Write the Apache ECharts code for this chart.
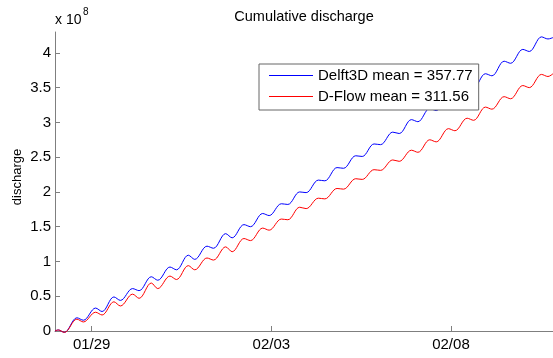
<!DOCTYPE html>
<html>
<head>
<meta charset="utf-8">
<script src="https://cdn.jsdelivr.net/npm/echarts@6/dist/echarts.min.js"></script>
<style>
  html, body { margin: 0; padding: 0; background: #fff; }
  #chart { width: 553px; height: 358px; }
</style>
</head>
<body>
<div id="chart"></div>
<script>
// Time in days of the year (29 = 29 January, 00:00)
const days = [
  27.98, 28.07, 28.24,
  28.59, 28.77, 29.11, 29.29, 29.62, 29.80, 30.14, 30.32,
  30.66, 30.84, 31.18, 31.36, 31.69, 31.87, 32.21, 32.39,
  32.73, 32.91, 33.24, 33.42, 33.76, 33.94, 34.28, 34.46,
  34.79, 34.97, 35.31, 35.49, 35.83, 36.01, 36.35, 36.53,
  36.86, 37.04, 37.38, 37.56, 37.90, 38.08, 38.41, 38.59,
  38.93, 39.11, 39.45, 39.63, 39.96, 40.14, 40.48, 40.66,
  41.00, 41.18, 41.52, 41.70,
  41.84
];

// Cumulative discharge, in units of 1e8 m3
const delft3d = [
  0.00, 0.015, -0.02,
  0.19, 0.155, 0.33, 0.28, 0.49, 0.44, 0.61, 0.58,
  0.78, 0.73, 0.92, 0.88, 1.09, 1.03, 1.22, 1.19,
  1.40, 1.34, 1.53, 1.50, 1.69, 1.66, 1.83, 1.82,
  2.00, 1.99, 2.17, 2.16, 2.35, 2.34, 2.52, 2.51,
  2.69, 2.68, 2.86, 2.84, 3.04, 3.01, 3.20, 3.17,
  3.37, 3.34, 3.53, 3.50, 3.70, 3.67, 3.88, 3.85,
  4.05, 4.02, 4.23, 4.20,
  4.22
];

const dflow = [
  0.00, 0.015, -0.02,
  0.17, 0.13, 0.27, 0.23, 0.42, 0.36, 0.53, 0.47,
  0.69, 0.61, 0.79, 0.74, 0.94, 0.88, 1.05, 1.02,
  1.21, 1.14, 1.33, 1.30, 1.48, 1.45, 1.61, 1.60,
  1.78, 1.76, 1.91, 1.90, 2.05, 2.04, 2.19, 2.18,
  2.32, 2.31, 2.46, 2.44, 2.60, 2.57, 2.75, 2.72,
  2.91, 2.88, 3.06, 3.03, 3.22, 3.19, 3.37, 3.34,
  3.53, 3.50, 3.69, 3.66,
  3.70
];

const seriesNames = ['Delft3D mean = 357.77', 'D-Flow mean = 311.56'];
const seriesColors = ['#0000ff', '#ff0000'];
const xTickDays = [29, 34, 39];
const xTickLabels = ['01/29', '02/03', '02/08'];
const yTicks = [0, 0.5, 1, 1.5, 2, 2.5, 3, 3.5, 4];

const FONT = '"Liberation Sans", Arial, Helvetica, sans-serif';
const AXIS_GRAY = '#7f7f7f';

const pairs = (vals) => days.map((d, i) => [d, vals[i]]);

const chart = echarts.init(document.getElementById('chart'), null, { renderer: 'canvas' });

chart.setOption({
  animation: false,
  backgroundColor: '#fff',
  color: seriesColors,
  grid: { left: 55, right: 0, top: 32, bottom: 27, containLabel: false },
  xAxis: {
    type: 'value',
    min: 27.98,
    max: 41.84,
    splitLine: { show: false },
    axisLine: { show: true, lineStyle: { color: AXIS_GRAY, width: 1 } },
    axisTick: { show: true, inside: true, length: 5, customValues: xTickDays,
                lineStyle: { color: AXIS_GRAY } },
    axisLabel: {
      customValues: xTickDays,
      margin: 6,
      color: '#000',
      fontFamily: FONT,
      fontSize: 15,
      formatter: (v) => xTickLabels[xTickDays.indexOf(v)]
    }
  },
  yAxis: {
    type: 'value',
    min: 0,
    max: 4.3,
    splitLine: { show: false },
    axisLine: { show: true, lineStyle: { color: AXIS_GRAY, width: 1 } },
    axisTick: { show: true, inside: true, length: 5, customValues: yTicks,
                lineStyle: { color: AXIS_GRAY } },
    axisLabel: {
      customValues: yTicks,
      margin: 4,
      color: '#000',
      fontFamily: FONT,
      fontSize: 15,
      formatter: (v) => String(v)
    }
  },
  legend: {
    orient: 'vertical',
    left: 259,
    top: 64,
    data: seriesNames.map((n, i) => ({ name: n, itemStyle: { color: seriesColors[i] } })),
    icon: 'rect',
    itemWidth: 44,
    itemHeight: 1,
    itemGap: 0,
    itemTextGap: 7,
    padding: [1, 6, 3, 10],
    backgroundColor: '#fff',
    borderColor: '#666',
    borderWidth: 1,
    borderRadius: 0,
    textStyle: { color: '#000', fontFamily: FONT, fontSize: 15, lineHeight: 21 }
  },
  graphic: [
    {
      type: 'text', x: 304, y: 16.7,
      style: { text: 'Cumulative discharge', fill: '#000', font: '14.5px ' + FONT,
               textAlign: 'center', textVerticalAlign: 'middle', align: 'center', verticalAlign: 'middle' }
    },
    {
      type: 'text', x: 55, y: 20,
      style: { text: 'x 10', fill: '#000', font: '14px ' + FONT,
               textAlign: 'left', textVerticalAlign: 'middle', align: 'left', verticalAlign: 'middle' }
    },
    {
      type: 'text', x: 83, y: 12.5,
      style: { text: '8', fill: '#000', font: '10px ' + FONT,
               textAlign: 'left', textVerticalAlign: 'middle', align: 'left', verticalAlign: 'middle' }
    },
    {
      type: 'text', x: 17, y: 177, rotation: Math.PI / 2,
      style: { text: 'discharge', fill: '#000', font: '13px ' + FONT,
               textAlign: 'center', textVerticalAlign: 'middle', align: 'center', verticalAlign: 'middle' }
    }
  ],
  series: seriesNames.map((name, i) => ({
    name: name,
    type: 'line',
    data: pairs(i === 0 ? delft3d : dflow),
    showSymbol: false,
    symbol: 'none',
    smooth: 0.35,
    clip: false,
    itemStyle: { color: seriesColors[i] },
    lineStyle: { color: seriesColors[i], width: 1 }
  }))
});
</script>
</body>
</html>
